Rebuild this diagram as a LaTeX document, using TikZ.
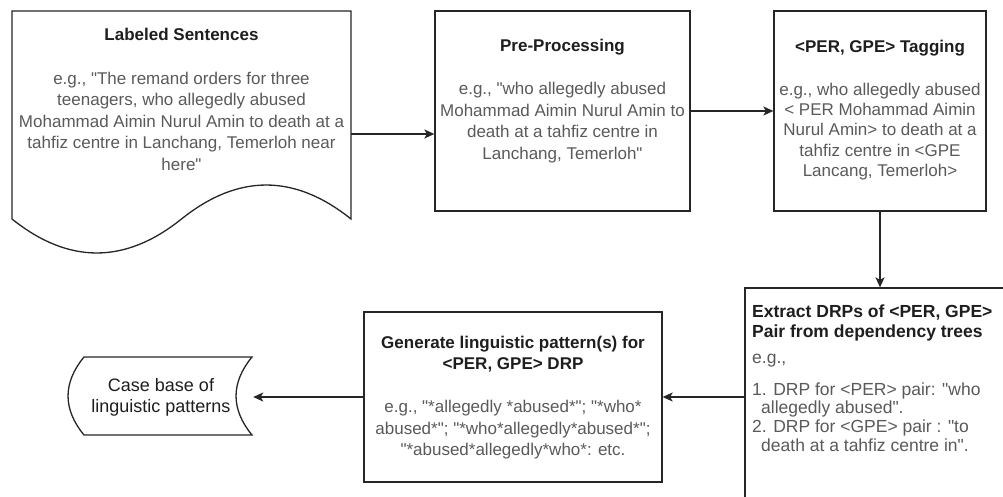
\documentclass[tikz,border=0pt]{standalone}
\usepackage{fontspec}
\setmainfont{Liberation Sans}[Ligatures=TeXOff]
\usetikzlibrary{arrows.meta}
\definecolor{titlec}{HTML}{1E1E1E}
\definecolor{bodyc}{HTML}{5A5A5A}
\definecolor{linec}{HTML}{262626}
\begin{document}
\begin{tikzpicture}[x=1pt,y=-1pt,
  shapeline/.style={draw=linec,line width=1.3pt,fill=white},
  box/.style={shapeline,inner sep=0pt},
  arr/.style={draw=linec,line width=1.3pt,-{Stealth[length=10pt,width=9pt,inset=2.5pt]}},
  ttl/.style={font=\bfseries\fontsize{17}{21.5}\selectfont,text=titlec,align=center,inner sep=0pt},
  bdy/.style={font=\fontsize{17}{21.5}\selectfont,text=bodyc,align=center,inner sep=0pt}]
\useasboundingbox (0,0) rectangle (1003,497);
\fill[white] (0,0) rectangle (1003,497);
\clip (0,0) rectangle (1003,497);

% Labeled Sentences (document shape)
\draw[shapeline] (12,11) -- (351,11) -- (351,219)
  .. controls (294.5,173.7) and (238,173.7) .. (181.5,219)
  .. controls (125,264.3) and (68.5,264.3) .. (12,219) -- cycle;
\node[minimum width=339pt,minimum height=246pt,inner sep=0pt] (doc) at (181.5,134) {};
\node[ttl] (doctitle) at (181.5,34) {Labeled Sentences};
\node[bdy] (docbody) at (181.5,121) {e.g., "The remand orders for three\\teenagers, who allegedly abused\\Mohammad Aimin Nurul Amin to death at a\\tahfiz centre in Lanchang, Temerloh near\\here"};

% Pre-Processing
\node[box,minimum width=255pt,minimum height=200pt] (pre) at (562.5,111) {};
\node[ttl] (pretitle) at (562.5,47) {Pre-Processing};
\node[bdy] (prebody) at (562.5,122.5) {e.g., "who allegedly abused\\Mohammad Aimin Nurul Amin to\\death at a tahfiz centre in\\Lanchang, Temerloh"};

% Tagging
\node[box,minimum width=212pt,minimum height=200pt] (tag) at (880,111) {};
\node[ttl] (tagtitle) at (880,48) {<PER, GPE> Tagging};
\node[bdy,font=\fontsize{17}{20.3}\selectfont] (tagbody) at (880,131.5) {e.g., who allegedly abused\\< PER Mohammad Aimin\\Nurul Amin> to death at a\\tahfiz centre in <GPE\\Lancang, Temerloh>};

% Extract DRPs
\node[box,minimum width=270pt,minimum height=220pt] (ext) at (880,398) {};
\node[ttl,align=left,anchor=west,font=\bfseries\fontsize{17.5}{20}\selectfont] (exttitle) at (752,323) {Extract DRPs of <PER, GPE>\\Pair from dependency trees};
\node[bdy,anchor=west,font=\fontsize{17.5}{20}\selectfont] (exteg) at (752,361) {e.g.,};
\node[bdy,align=left,anchor=west,font=\fontsize{17.5}{18.7}\selectfont] (extlist) at (752,417) {1. DRP for <PER> pair: "who\\\hspace*{9pt}allegedly abused".\\2. DRP for <GPE> pair : "to\\\hspace*{9pt}death at a tahfiz centre in".};

% Generate linguistic patterns
\node[box,minimum width=298pt,minimum height=170pt] (gen) at (513,397) {};
\node[ttl] (gentitle) at (513,354) {Generate linguistic pattern(s) for\\<PER, GPE> DRP};
\node[bdy] (genbody) at (513,430) {e.g., "*allegedly *abused*"; "*who*\\abused*"; "*who*allegedly*abused*";\\"*abused*allegedly*who*: etc.};

% Case base (stored data shape)
\draw[shapeline] (84,357) -- (252,357)
  .. controls (230.7,383) and (230.7,409) .. (252,435) -- (84,435)
  .. controls (62.7,409) and (62.7,383) .. (84,357) -- cycle;
\node[minimum width=184pt,minimum height=78pt,inner sep=0pt,font=\fontsize{18}{21}\selectfont,text=titlec,align=center] (case) at (161,397) {Case base of\\linguistic patterns};

% connectors
\draw[arr] (doc.east) -- (doc.east -| pre.west);
\draw[arr] (pre.east) -- (tag.west);
\draw[arr] (tag.south) -- (tag.south |- ext.north);
\draw[arr] (gen.east -| ext.west) -- (gen.east);
\draw[arr] (gen.west) -- (gen.west -| case.east);
\end{tikzpicture}
\end{document}
